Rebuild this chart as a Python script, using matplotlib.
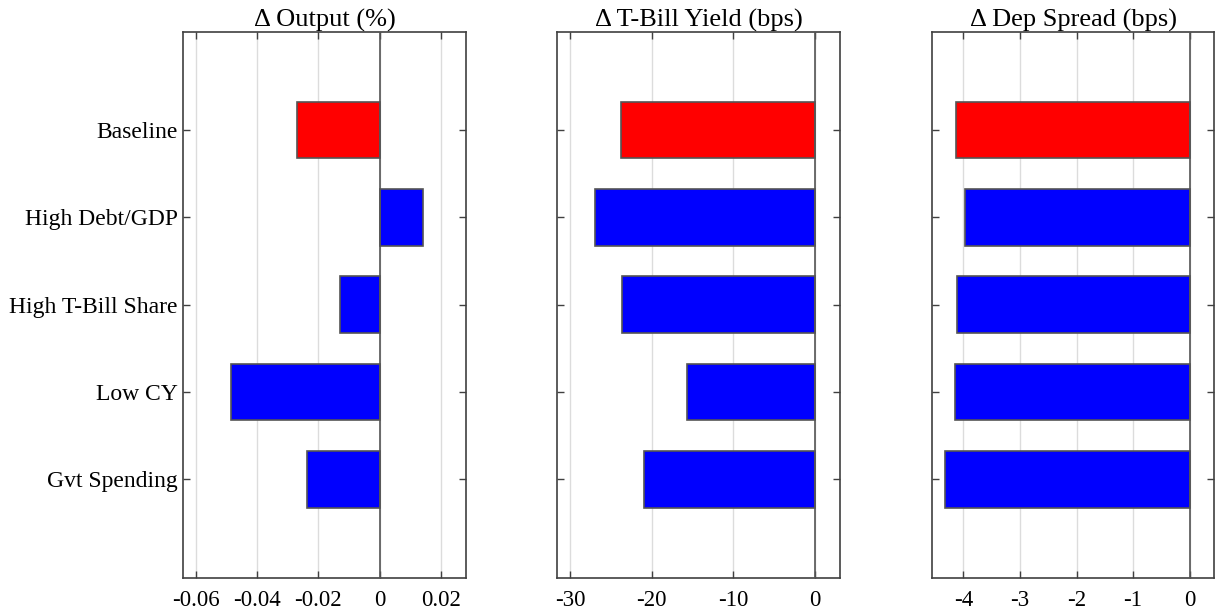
import matplotlib
matplotlib.use("Agg")
import matplotlib.pyplot as plt

plt.rcParams['font.family'] = ['Liberation Serif', 'DejaVu Serif']

categories = ["Baseline", "High Debt/GDP", "High T-Bill Share", "Low CY", "Gvt Spending"]
output_pct = [-0.0271, 0.0142, -0.0130, -0.0483, -0.0238]
tbill_bps = [-23.8, -27.0, -23.6, -15.7, -21.0]
depspread_bps = [-4.13, -3.97, -4.11, -4.14, -4.33]

titles = ["Δ Output (%)", "Δ T-Bill Yield (bps)", "Δ Dep Spread (bps)"]
series = [output_pct, tbill_bps, depspread_bps]
xlims = [(-0.064, 0.028), (-31.6, 3.1), (-4.55, 0.43)]
xticks = [[-0.06, -0.04, -0.02, 0, 0.02], [-30, -20, -10, 0], [-4, -3, -2, -1, 0]]
xticklabels = [["-0.06", "-0.04", "-0.02", "0", "0.02"],
               ["-30", "-20", "-10", "0"],
               ["-4", "-3", "-2", "-1", "0"]]
colors = ["#ff0000"] + ["#0000ff"] * 4

W, H = 1215, 613
fig = plt.figure(figsize=(W / 100, H / 100), dpi=100)
lefts = [183.3, 557.3, 932.3]
widths = [282.4, 282.7, 281.7]
bottom = 1 - 577.7 / H
height = (577.7 - 32.3) / H

ypos = list(range(1, len(categories) + 1))
axcol = "#404040"
for i in range(3):
    ax = fig.add_axes([lefts[i] / W, bottom, widths[i] / W, height])
    ax.barh(ypos, series[i], height=0.65, color=colors, edgecolor="#555555",
            linewidth=1.2, zorder=3)
    ax.axvline(0, color="#555555", linewidth=1.2, zorder=4)
    ax.set_xlim(*xlims[i])
    ax.set_ylim(6.125, -0.12)
    ax.set_xticks(xticks[i])
    ax.set_xticklabels(xticklabels[i])
    ax.set_yticks(ypos)
    if i == 0:
        ax.set_yticklabels(categories)
    else:
        ax.set_yticklabels([])
    ax.grid(axis='x', color="#dcdcdc", linewidth=1.0, zorder=0)
    ax.set_axisbelow(True)
    ax.tick_params(axis='both', direction='in', length=5, width=1.0, color=axcol,
                   top=True, right=True)
    ax.tick_params(axis='x', labelsize=16.5, pad=9)
    ax.tick_params(axis='y', labelsize=17, pad=4)
    for s in ax.spines.values():
        s.set_color(axcol)
        s.set_linewidth(1.2)
    ax.set_title(titles[i], fontsize=19, pad=4)

fig.savefig("out.png", dpi=100)
